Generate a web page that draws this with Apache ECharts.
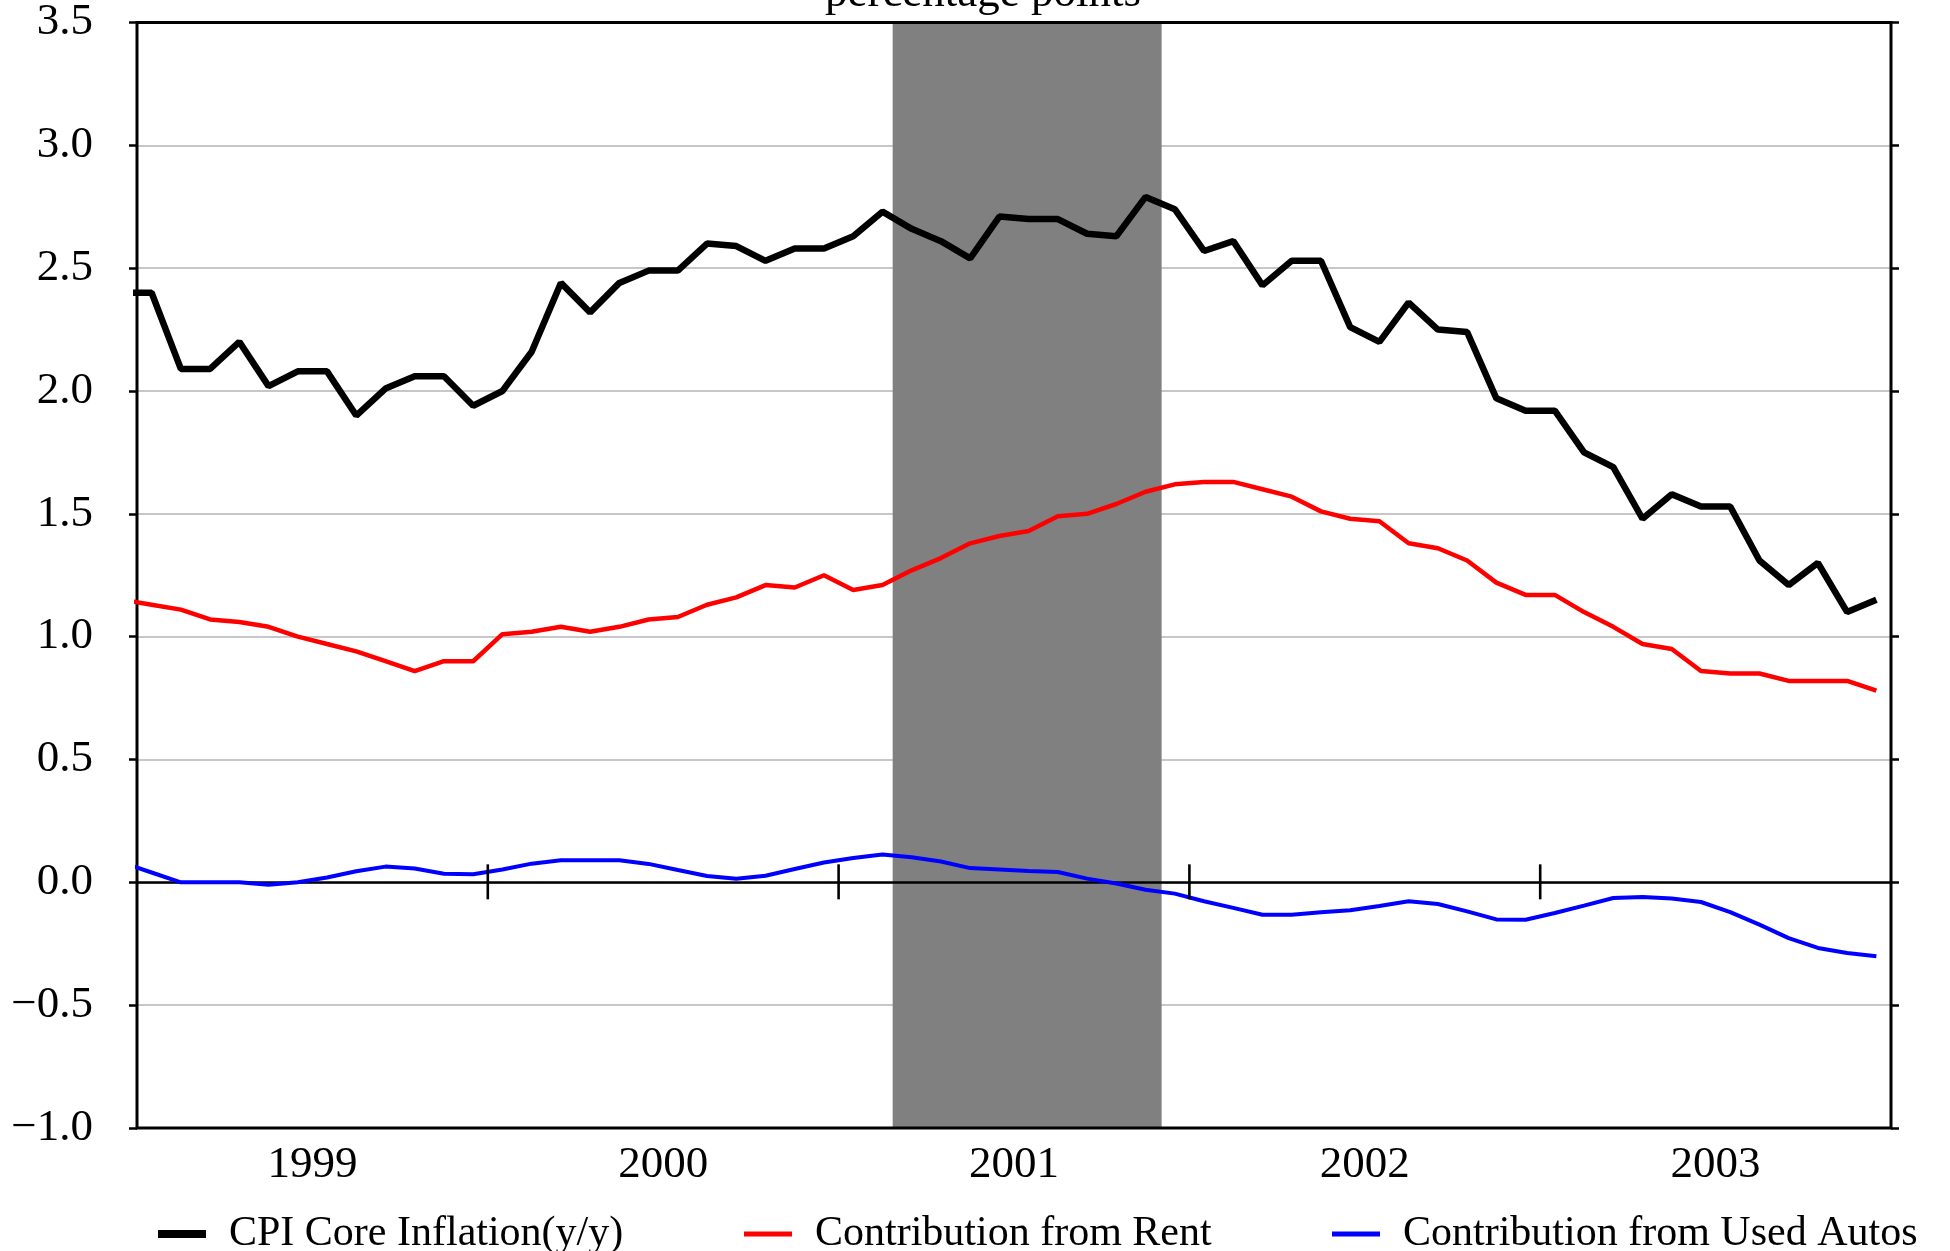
<!DOCTYPE html>
<html>
<head>
    <meta charset="utf-8">
    <title>CPI Core Inflation and contributions</title>
    <script src="https://cdn.jsdelivr.net/npm/echarts@6/dist/echarts.min.js"></script>
</head>
<body style="margin:0;background:#fff;">
    <div id="main" style="width:1950px;height:1251px;"></div>
    <script type="text/javascript">

        // monthly values, Dec 1998 .. Dec 2003 (first point sits just left of the axis)
        var years = ['1999', '2000', '2001', '2002', '2003'];

        var coreCPI = [2.40,
            2.40, 2.09, 2.09, 2.20, 2.02, 2.08, 2.08, 1.90, 2.01, 2.06, 2.06, 1.94,
            2.00, 2.16, 2.44, 2.32, 2.44, 2.49, 2.49, 2.60, 2.59, 2.53, 2.58, 2.58,
            2.63, 2.73, 2.66, 2.61, 2.54, 2.71, 2.70, 2.70, 2.64, 2.63, 2.79, 2.74,
            2.57, 2.61, 2.43, 2.53, 2.53, 2.26, 2.20, 2.36, 2.25, 2.24, 1.97, 1.92,
            1.92, 1.75, 1.69, 1.48, 1.58, 1.53, 1.53, 1.31, 1.21, 1.30, 1.10, 1.15];

        var rentContrib = [1.15,
            1.13, 1.11, 1.07, 1.06, 1.04, 1.00, 0.97, 0.94, 0.90, 0.86, 0.90, 0.90,
            1.01, 1.02, 1.04, 1.02, 1.04, 1.07, 1.08, 1.13, 1.16, 1.21, 1.20, 1.25,
            1.19, 1.21, 1.27, 1.32, 1.38, 1.41, 1.43, 1.49, 1.50, 1.54, 1.59, 1.62,
            1.63, 1.63, 1.60, 1.57, 1.51, 1.48, 1.47, 1.38, 1.36, 1.31, 1.22, 1.17,
            1.17, 1.10, 1.04, 0.97, 0.95, 0.86, 0.85, 0.85, 0.82, 0.82, 0.82, 0.78];

        var usedAutoContrib = [0.08,
            0.04, 0.00, 0.00, 0.00, -0.01, 0.00, 0.02, 0.045, 0.064, 0.056, 0.035, 0.033,
            0.052, 0.076, 0.09, 0.09, 0.09, 0.075, 0.05, 0.026, 0.015, 0.027, 0.054, 0.081,
            0.099, 0.113, 0.102, 0.085, 0.058, 0.052, 0.046, 0.042, 0.015, -0.005, -0.03, -0.046,
            -0.077, -0.104, -0.132, -0.132, -0.122, -0.114, -0.096, -0.077, -0.088, -0.118, -0.151, -0.152,
            -0.125, -0.095, -0.064, -0.060, -0.066, -0.080, -0.121, -0.172, -0.227, -0.267, -0.288, -0.301];

        // recession shading, in months from Jan 1999 (Mar 2001 - Nov 2001)
        var recession = [25.85, 35.05];

        var yMin = -1, yMax = 3.5, yStep = 0.5;

        var FONT = 'Liberation Serif';

        // month index -> x value (mid-month), first entry is Dec 1998
        function toPoints(arr) {
            return arr.map(function (v, i) { return [i - 0.5, v]; });
        }

        var myChart = echarts.init(document.getElementById('main'));

        function legendFor(name, left, h) {
            return {
                data: [name],
                left: left,
                top: 1213,
                padding: 0,
                icon: 'rect',
                itemWidth: 48,
                itemHeight: h,
                selectedMode: false,
                textStyle: {
                    fontFamily: FONT, fontSize: 42, color: '#000',
                    padding: [0, 0, 16, 18]
                }
            };
        }

        var option = {
            animation: false,
            backgroundColor: '#fff',
            grid: {
                left: 137, right: 59, top: 22, bottom: 123,
                show: true, borderColor: '#000', borderWidth: 3, z: 2
            },
            graphic: [{
                type: 'text',
                x: 983, y: -6,
                z: 10,
                style: {
                    text: 'percentage points',
                    font: '45px "Liberation Serif"',
                    fill: '#000',
                    textAlign: 'center', textVerticalAlign: 'middle',
                    align: 'center', verticalAlign: 'middle'
                }
            }],
            legend: [
                legendFor('CPI Core Inflation(y/y)', 158, 8),
                legendFor('Contribution from Rent', 744, 5),
                legendFor('Contribution from Used Autos', 1332, 5)
            ],
            xAxis: [
                {   // data axis, drawn as the zero line
                    type: 'value', min: 0, max: years.length * 12, interval: 12,
                    position: 'bottom', z: 2,
                    axisLine: { onZero: true, onZeroAxisIndex: 0, lineStyle: { color: '#000', width: 2.7 } },
                    axisTick: { show: false },
                    axisLabel: { show: false },
                    splitLine: { show: false }
                },
                {   // year labels centred in each year
                    type: 'category', data: years, position: 'bottom',
                    boundaryGap: true,
                    axisLine: { show: false, onZero: false },
                    axisTick: { show: false },
                    axisLabel: { fontFamily: FONT, fontSize: 45, color: '#000', margin: 15 },
                    splitLine: { show: false }
                }
            ],
            yAxis: [
                {
                    type: 'value', min: yMin, max: yMax, interval: yStep, position: 'left',
                    axisLine: { show: false },
                    axisTick: { show: true, length: 8, lineStyle: { color: '#000', width: 2.5 } },
                    axisLabel: {
                        fontFamily: FONT, fontSize: 45, color: '#000', margin: 44,
                        formatter: function (v) { return v.toFixed(1).replace('-', '\u2212'); }
                    },
                    splitLine: { show: true, lineStyle: { color: '#b4b4b4', width: 1.5 } }
                },
                {
                    type: 'value', min: yMin, max: yMax, interval: yStep, position: 'right',
                    axisLine: { show: false },
                    axisTick: { show: true, length: 8, lineStyle: { color: '#000', width: 2.5 } },
                    axisLabel: { show: false },
                    splitLine: { show: false }
                }
            ],
            series: [
                {
                    name: 'recession', type: 'line', data: [], z: 1,
                    xAxisIndex: 0, yAxisIndex: 0,
                    markArea: {
                        silent: true,
                        itemStyle: { color: '#808080', opacity: 1 },
                        data: [[{ xAxis: recession[0] }, { xAxis: recession[1] }]]
                    }
                },
                {
                    name: 'CPI Core Inflation(y/y)', type: 'line', z: 3,
                    xAxisIndex: 0, yAxisIndex: 0,
                    data: toPoints(coreCPI), showSymbol: false, color: '#000',
                    lineStyle: { color: '#000', width: 6.5 }
                },
                {
                    name: 'Contribution from Rent', type: 'line', z: 3,
                    xAxisIndex: 0, yAxisIndex: 0,
                    data: toPoints(rentContrib), showSymbol: false, color: '#ff0000',
                    lineStyle: { color: '#ff0000', width: 4.5 }
                },
                {
                    name: 'Contribution from Used Autos', type: 'line', z: 3,
                    xAxisIndex: 0, yAxisIndex: 0,
                    data: toPoints(usedAutoContrib), showSymbol: false, color: '#0000ff',
                    lineStyle: { color: '#0000ff', width: 4 }
                }
            ]
        };

        myChart.setOption(option);

        // year boundary ticks crossing the zero line (positions from the axis scales)
        var zeroY = myChart.convertToPixel({ yAxisIndex: 0 }, 0);
        var yearTicks = [];
        for (var k = 1; k < years.length; k++) {
            var px = myChart.convertToPixel({ xAxisIndex: 0 }, k * 12);
            yearTicks.push({
                type: 'line', z: 20, silent: true,
                shape: { x1: px, y1: zeroY - 18, x2: px, y2: zeroY + 17 },
                style: { stroke: '#000', lineWidth: 2.6 }
            });
        }
        myChart.setOption({ graphic: option.graphic.concat(yearTicks) });
    </script>
</body>
</html>
